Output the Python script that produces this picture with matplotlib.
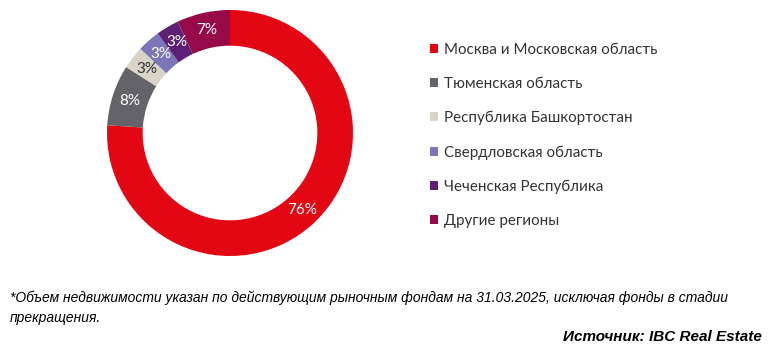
import matplotlib
matplotlib.use('Agg')
import matplotlib.pyplot as plt
from matplotlib.patches import Patch

# доли регионов, %
regions = ['Москва и Московская область', 'Тюменская область', 'Республика Башкортостан',
           'Свердловская область', 'Чеченская Республика', 'Другие регионы']
shares = [76, 8, 3, 3, 3, 7]
colors = ['#E30613', '#636369', '#D9D4C7', '#7B76B8', '#5E1F74', '#970A4A']
label_colors = ['white', 'white', '#333333', 'white', 'white', 'white']

plt.rcParams['font.family'] = ['Lato', 'DejaVu Sans']

fig = plt.figure(figsize=(7.69, 3.52), dpi=100)
W, H = 769, 352
cx, cy, r = 230, 133, 123
ax = fig.add_axes([(cx - r) / W, (H - cy - r) / H, 2 * r / W, 2 * r / H])

wedges, texts, autotexts = ax.pie(shares, colors=colors, startangle=90, counterclock=False,
                                  radius=1, wedgeprops=dict(width=0.29, linewidth=0),
                                  autopct='%d%%', pctdistance=0.855)
for t, c in zip(autotexts, label_colors):
    t.set_color(c)
    t.set_fontsize(11)
ax.set_xlim(-1, 1)
ax.set_ylim(-1, 1)
ax.set_aspect('equal')
ax.axis('off')

# легенда
handles = [Patch(facecolor=c, edgecolor='none') for c in colors]
fig.legend(handles, regions, loc='upper left', bbox_to_anchor=(430 / W, 1 - 43 / H),
           frameon=False, handlelength=0.55, handleheight=0.55,
           handletextpad=0.35, labelspacing=1.32, borderaxespad=0, borderpad=0,
           labelcolor='#333333', prop=dict(size=10.9))

# сноска и источник
foot = ['Liberation Sans', 'DejaVu Sans']
fig.text(10 / W, 1 - 298 / H,
         '*Объем недвижимости указан по действующим рыночным фондам на 31.03.2025, исключая фонды в стадии',
         family=foot, style='italic', fontsize=10.0, va='center', ha='left', color='black')
fig.text(10 / W, 1 - 318 / H, 'прекращения.',
         family=foot, style='italic', fontsize=10.0, va='center', ha='left', color='black')
fig.text(762 / W, 1 - 337 / H, 'Источник: IBC Real Estate',
         family=foot, style='italic', weight='bold', fontsize=11.0, va='center', ha='right',
         color='black')

fig.savefig('out.png', dpi=100)
